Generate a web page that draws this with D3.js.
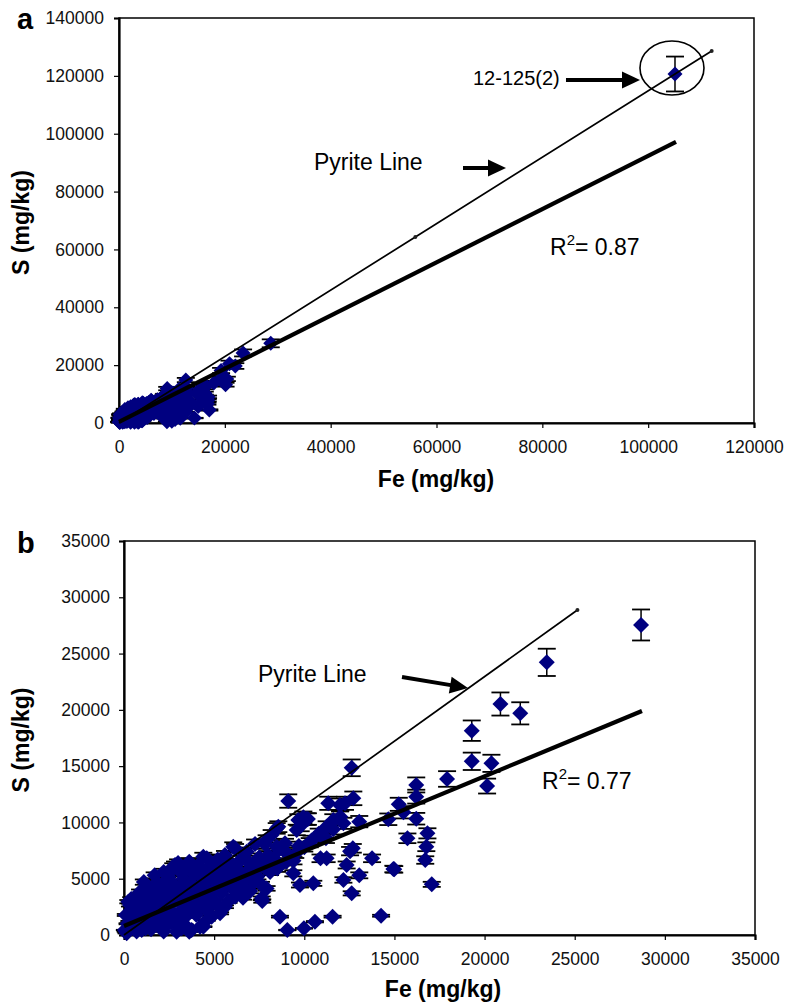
<!DOCTYPE html>
<html>
<head>
<meta charset="utf-8">
<script src="https://cdn.jsdelivr.net/npm/d3@7"></script>
<style>
  body { margin: 0; background: #fff; }
  text { font-family: Arial, "Liberation Sans", sans-serif; }
</style>
</head>
<body>
<div id="chart"></div>
<script>
// Fe / S pairs (mg/kg)
var samples = [
  [28680,27540],[23450,24220],[20880,20520],[21980,19690],[19290,18150],[19290,15430],[20380,15250],[20140,13230],
  [17920,13860],[16210,13330],[16210,12290],[15240,11610],[15500,10900],[14660,10280],[16210,10330],[15720,8590],
  [16830,9030],[16770,7840],[16710,6660],[17070,4500],[13760,6810],[14990,5830],[13050,5300],[12690,7700],
  [12720,12140],[12630,14850],[12630,3700],[14260,1710],[13050,10070],[12260,11700],[12170,9920],[12350,6220],
  [12170,4890],[9110,11900],[9950,10450],[9580,9330],[11330,11700],[11980,11550],[11610,10220],[11240,9620],
  [10900,6810],[11240,6810],[9390,5480],[9760,4440],[10500,4590],[8650,1630],[9060,440],[9980,590],
  [10590,1180],[11570,1630],[8560,9620],[7910,8440],[8470,7840],[8840,7550],[7640,3260],[7910,4140],
  [6160,7700],[5600,7110],[4590,6810],[6620,6960],[7170,6370],[5330,1930],[4860,1630],[4400,740],
  [10130,10300],[9670,10220],[8470,9470],[3620,6510],[2830,6220],[1810,4650],[850,3550],[330,2660],
  [7670,3020],[14940,5860],[12540,7450],[7270,8080],[7820,8080],[6810,7400],[8930,8140],[5330,6510],
  [4400,6960],[4590,1330],[4220,740],[3620,290],[6060,7840],[3660,6370],[2730,6070],[890,3850],
  [240,2960],[100,1780],[50,440],[3750,440],[5600,2510],[6160,3400],[6530,4290],[4860,5620],
  [4120,6220],[2460,5180],[3200,5480],[1350,4290],[610,2510],[3380,890],[2920,290],[2270,740],
  [1350,1040],[980,440],[430,1330],[150,150],[300,600],[200,1000],[600,1800],[100,300],
  [500,800],[700,1500],[900,2200],[1100,1800],[1300,2700],[1500,3200],[1700,2400],[1900,3600],
  [2100,2900],[2300,4100],[2500,3300],[2700,4600],[2900,3800],[3100,4200],[3300,5000],[3500,3500],
  [3700,4600],[3900,5400],[4100,4000],[4300,5100],[4500,4600],[4700,5900],[4900,3800],[5100,5300],
  [5300,4500],[5500,6100],[5700,5200],[5900,6400],[6100,4900],[6300,5800],[6500,6700],[6800,5600],
  [7000,6300],[7300,5900],[7500,6900],[7700,6500],[8000,7100],[8300,6800],[8600,7600],[2000,1500],
  [2600,2200],[3200,2700],[3800,3000],[4400,3400],[5000,3000],[1200,600],[1800,1000],[2400,1700],
  [3000,1900],[3600,2200],[4200,2500],[4800,2800],[5400,3700],[6000,4100],[6600,3300],[7200,4700],
  [7600,4500],[8100,5600],[8500,5900],[9000,6500],[9500,7200],[10000,7800],[10400,8400],[10800,9000],
  [11200,8600],[11600,9400],[9800,9700],[10200,10300],[12000,10500],[700,300],[1500,500],[2200,300],
  [3000,1000],[1000,1000],[9200,7000],[9700,7900],[10300,8200],[11000,8700],[8600,6300],[9400,6600],
  [8190,8880],[400,3200],[800,2900],[1200,3400],[1600,4000],[2000,4400],[2400,4900],[2200,5600],
  [1100,4700],[1700,5300],[2600,5700],[3000,6400],[3400,6000],[3800,5900],[4200,5600],[4600,5200],
  [5000,6200],[5200,6700],[5400,5600],[5800,5700],[6200,6200],[6400,5100],[6700,4800],[7000,5400],
  [7400,5200],[7800,6000],[8200,6200],[1000,2500],[1400,2000],[1800,1900],[2200,2200],[2600,2800],
  [3000,3100],[3400,3900],[3800,4100],[4200,4400],[4600,4000],[5000,4800],[5600,4400],[6000,5300],
  [2800,1400],[3400,1600],[4000,1800],[4600,2200],[5200,2600],[5800,3000],[6400,3800],[7000,3900],
  [1600,1400],[2000,800],[2600,1100],[3200,600],[500,2000],[300,1200],[700,900],[1200,1300]
];

// the outlier only shown in panel a
var outlier = [[105070,120640]];

var errorFraction = 0.05;

// tick values
var ticksA_x = [0,20000,40000,60000,80000,100000,120000];
var ticksA_y = [0,20000,40000,60000,80000,100000,120000,140000];
var ticksB_x = [0,5000,10000,15000,20000,25000,30000,35000];
var ticksB_y = [0,5000,10000,15000,20000,25000,30000,35000];

// pyrite line S = 1.148 Fe, marker points along it
var pyriteA = [[0,0],[56000,64290],[112000,128580]];
var pyriteB = [[0,0],[25150,28870]];

// fitted lines
var fitA = [[0,350],[105260,97140]];
var fitB = [[0,800],[28730,19900]];

var svg = d3.select("#chart")
  .append("svg")
    .attr("width", 785)
    .attr("height", 1003);

function arrow(g, x1, y1, x2, y2) {
  var len = Math.hypot(x2 - x1, y2 - y1);
  var ux = (x2 - x1) / len, uy = (y2 - y1) / len;
  var hl = 18, hw = 8.5;
  var bx = x2 - ux * hl, by = y2 - uy * hl;
  g.append("line")
    .attr("x1", x1).attr("y1", y1)
    .attr("x2", bx + ux * 2).attr("y2", by + uy * 2)
    .attr("stroke", "#000").attr("stroke-width", 4);
  g.append("polygon")
    .attr("points", [
      [x2, y2],
      [bx - uy * hw, by + ux * hw],
      [bx + uy * hw, by - ux * hw]
    ].map(function(p) { return p.join(","); }).join(" "))
    .attr("fill", "#000");
}

function drawPanel(cfg) {
  var x = d3.scaleLinear().domain(cfg.xDomain).range([cfg.left, cfg.right]);
  var y = d3.scaleLinear().domain(cfg.yDomain).range([cfg.bottom, cfg.top]);
  var g = svg.append("g");

  // frame
  g.append("rect")
    .attr("x", cfg.left).attr("y", cfg.top)
    .attr("width", cfg.right - cfg.left).attr("height", cfg.bottom - cfg.top)
    .attr("fill", "none").attr("stroke", "#000").attr("stroke-width", 1.5);

  // axes
  var ax = g.append("g")
    .attr("transform", "translate(0," + cfg.bottom + ")")
    .call(d3.axisBottom(x).tickValues(cfg.xTicks).tickSize(5).tickPadding(cfg.xPad).tickFormat(d3.format("d")));
  var ay = g.append("g")
    .attr("transform", "translate(" + cfg.left + ",0)")
    .call(d3.axisLeft(y).tickValues(cfg.yTicks).tickSize(5).tickPadding(cfg.yPad).tickFormat(d3.format("d")));
  [ax, ay].forEach(function(a) {
    a.select(".domain").attr("stroke-width", 2.2);
    a.selectAll(".tick line").attr("stroke-width", 1.2);
    a.selectAll("text").style("font-size", "17.5px").attr("fill", "#111")
      .style("font-family", "Arial, 'Liberation Sans', sans-serif");
  });

  // error bars
  var pts = cfg.data;
  var eb = g.append("g");
  pts.forEach(function(d) {
    var e = d[1] * errorFraction;
    eb.append("line")
      .attr("x1", x(d[0])).attr("x2", x(d[0]))
      .attr("y1", y(d[1] - e)).attr("y2", y(d[1] + e))
      .attr("stroke", "#000").attr("stroke-width", 1.5);
    [d[1] - e, d[1] + e].forEach(function(v) {
      eb.append("line")
        .attr("x1", x(d[0]) - 9).attr("x2", x(d[0]) + 9)
        .attr("y1", y(v)).attr("y2", y(v))
        .attr("stroke", "#000").attr("stroke-width", 1.8);
    });
  });

  // diamonds
  var s = cfg.marker;
  g.append("g").selectAll("path")
    .data(pts)
    .enter()
    .append("path")
      .attr("d", "M0," + (-s) + "L" + s + ",0L0," + s + "L" + (-s) + ",0Z")
      .attr("transform", function(d) { return "translate(" + x(d[0]) + "," + y(d[1]) + ")"; })
      .attr("fill", "#000080");

  var line = d3.line()
    .x(function(d) { return x(d[0]); })
    .y(function(d) { return y(d[1]); });

  // pyrite line
  g.append("path").datum(cfg.pyrite)
    .attr("d", line).attr("fill", "none")
    .attr("stroke", "#000").attr("stroke-width", 1.7);
  g.append("g").selectAll("circle")
    .data(cfg.pyrite.slice(1))
    .enter().append("circle")
      .attr("cx", function(d) { return x(d[0]); })
      .attr("cy", function(d) { return y(d[1]); })
      .attr("r", 2).attr("fill", "#222");

  // fitted line
  g.append("path").datum(cfg.fit)
    .attr("d", line).attr("fill", "none")
    .attr("stroke", "#000").attr("stroke-width", 4.2);

  // panel letter
  g.append("text")
    .attr("x", 17).attr("y", cfg.letterY)
    .style("font-size", "29px").style("font-weight", "bold")
    .text(cfg.letter);

  // axis titles
  g.append("text")
    .attr("text-anchor", "middle")
    .attr("x", cfg.xTitleX).attr("y", cfg.xTitleY)
    .style("font-size", "23px").style("font-weight", "bold")
    .text("Fe (mg/kg)");
  g.append("text")
    .attr("text-anchor", "middle")
    .attr("transform", "translate(29," + ((cfg.top + cfg.bottom) / 2 + 2) + ") rotate(-90)")
    .style("font-size", "23px").style("font-weight", "bold")
    .text("S (mg/kg)");

  // pyrite label + arrow
  g.append("text")
    .attr("x", x(cfg.pyriteLabel[0])).attr("y", y(cfg.pyriteLabel[1]))
    .style("font-size", "23px")
    .text("Pyrite Line");
  arrow(g, x(cfg.pyriteArrow[0][0]), y(cfg.pyriteArrow[0][1]), x(cfg.pyriteArrow[1][0]), y(cfg.pyriteArrow[1][1]));

  // R squared
  var r = g.append("text")
    .attr("x", x(cfg.r2Pos[0])).attr("y", y(cfg.r2Pos[1]))
    .style("font-size", "23px");
  r.append("tspan").text("R");
  r.append("tspan").attr("dy", -10).style("font-size", "15px").text("2");
  r.append("tspan").attr("dy", 10).text("= " + cfg.r2);

  return { g: g, x: x, y: y };
}

var pa = drawPanel({
  left: 119, right: 754, top: 18, bottom: 423,
  xDomain: [0, 120000], yDomain: [0, 140000],
  xTicks: ticksA_x, yTicks: ticksA_y, xPad: 13, yPad: 10,
  data: samples.concat(outlier), marker: 7.5,
  pyrite: pyriteA, fit: fitA,
  letter: "a", letterY: 29,
  xTitleX: 436, xTitleY: 487,
  pyriteLabel: [36850, 87460], pyriteArrow: [[65010, 88150], [73130, 88150]],
  r2Pos: [81450, 58070], r2: "0.87"
});

// outlier note in panel a
pa.g.append("text")
  .attr("x", pa.x(66900)).attr("y", pa.y(116840))
  .style("font-size", "20px")
  .text("12-125(2)");
arrow(pa.g, pa.x(84470), pa.y(118570), pa.x(98460), pa.y(118570));
pa.g.append("ellipse")
  .attr("cx", pa.x(104500)).attr("cy", pa.y(122720))
  .attr("rx", 32).attr("ry", 27)
  .attr("fill", "none").attr("stroke", "#000").attr("stroke-width", 1.6);

drawPanel({
  left: 124, right: 755, top: 541, bottom: 935,
  xDomain: [0, 35000], yDomain: [0, 35000],
  xTicks: ticksB_x, yTicks: ticksB_y, xPad: 13, yPad: 9,
  data: samples, marker: 8,
  pyrite: pyriteB, fit: fitB,
  letter: "b", letterY: 553,
  xTitleX: 443, xTitleY: 997,
  pyriteLabel: [7430, 22470], pyriteArrow: [[15420, 22920], [19080, 21940]],
  r2Pos: [23190, 12970], r2: "0.77"
});
</script>
</body>
</html>
